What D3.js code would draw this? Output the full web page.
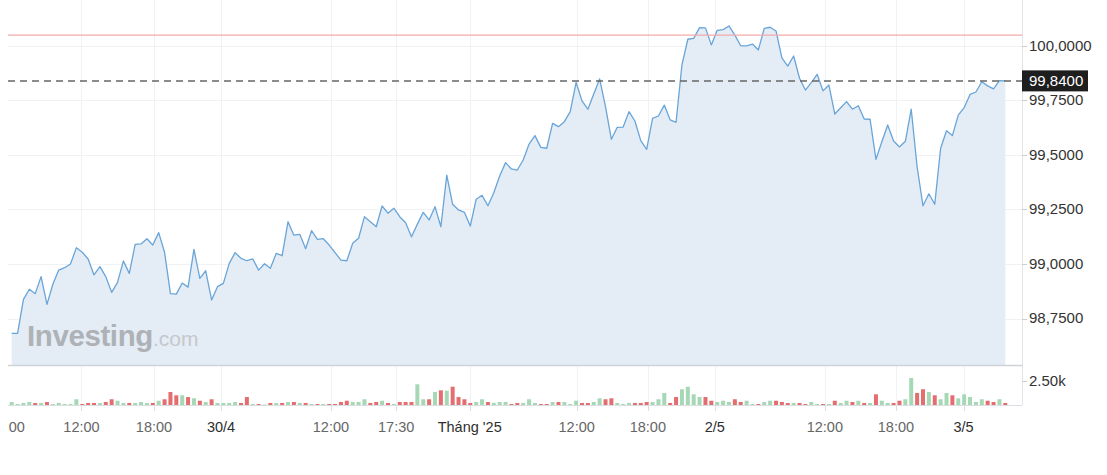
<!DOCTYPE html>
<html><head><meta charset="utf-8">
<script src="https://cdn.jsdelivr.net/npm/d3@7"></script>
<style>
html,body{margin:0;padding:0;background:#fff;overflow:hidden;}
svg{display:block;font-family:"Liberation Sans",Arial,Helvetica,sans-serif;}
</style></head><body>
<svg id="c" width="1107" height="475"></svg>
<script>
// ---------------- DATA ----------------
const prices = [
98.682,98.682,98.838,98.884,98.864,98.942,98.815,98.907,98.972,98.983,
99.000,99.075,99.054,99.023,98.950,98.988,98.942,98.870,98.916,99.014,
98.957,99.090,99.092,99.116,99.087,99.144,99.054,98.864,98.862,98.913,
98.894,99.067,98.934,98.969,98.835,98.896,98.911,99.003,99.052,99.026,
99.015,99.023,98.972,99.001,98.980,99.049,99.038,99.194,99.132,99.136,
99.070,99.153,99.113,99.116,99.087,99.052,99.018,99.015,99.095,99.118,
99.217,99.194,99.171,99.266,99.233,99.256,99.217,99.189,99.125,99.183,
99.237,99.202,99.263,99.171,99.408,99.274,99.248,99.237,99.174,99.297,
99.315,99.267,99.327,99.404,99.465,99.436,99.431,99.477,99.550,99.589,
99.535,99.531,99.645,99.630,99.653,99.699,99.833,99.748,99.710,99.780,
99.849,99.722,99.572,99.627,99.628,99.699,99.656,99.566,99.526,99.668,
99.679,99.729,99.661,99.650,99.913,100.031,100.035,100.084,100.083,100.005,
100.072,100.075,100.092,100.050,100.001,100.001,100.009,99.982,100.081,100.086,
100.069,99.946,99.908,99.954,99.852,99.798,99.832,99.870,99.794,99.821,
99.688,99.717,99.745,99.710,99.726,99.665,99.664,99.480,99.561,99.638,
99.564,99.537,99.563,99.710,99.446,99.267,99.322,99.274,99.531,99.611,
99.589,99.683,99.717,99.778,99.789,99.836,99.817,99.803,99.841,99.840
];
const volumes = [
310,100,210,310,210,210,310,100,210,100,
100,590,100,210,210,210,310,590,440,210,
210,210,310,210,210,440,590,1340,1000,1000,
820,690,440,310,590,210,210,210,310,210,
820,100,100,50,210,210,210,310,310,210,
210,100,100,100,100,100,310,440,310,310,
590,210,310,440,210,100,310,310,310,2130,
590,590,1340,1510,1470,1880,820,590,210,310,
590,310,210,310,310,100,210,210,590,210,
100,100,310,310,310,100,440,210,210,310,
690,590,690,210,100,210,210,210,310,310,
590,1240,210,820,1620,1880,1100,820,820,440,
310,440,310,590,310,440,100,100,310,440,
440,310,210,210,210,100,310,100,100,100,
440,210,440,310,440,210,210,1100,440,210,
210,440,590,2780,1240,1620,1340,1000,590,1240,
1000,690,1100,820,310,590,440,310,590,210
];
const volUp = [
1,1,1,1,0,1,0,1,1,1,
1,1,0,0,0,1,0,0,1,1,
0,1,1,1,0,1,0,0,0,1,
0,1,0,1,0,1,1,1,1,0,
0,1,0,1,0,1,0,1,0,1,
0,1,0,1,0,0,0,0,1,1,
1,0,0,1,0,1,0,0,0,1,
1,0,1,0,1,0,0,0,0,1,
1,0,1,1,1,0,0,1,1,1,
0,0,1,0,1,1,1,0,0,1,
1,0,0,1,1,1,0,0,0,1,
1,1,0,0,1,1,1,1,0,0,
1,1,1,0,0,1,1,0,1,1,
0,0,0,1,0,0,1,1,0,1,
0,1,1,0,1,0,1,0,1,1,
0,0,1,1,0,0,1,0,1,1,
0,1,1,1,1,1,0,0,1,0
];
const priceTicks = [98.75, 99, 99.25, 99.5, 99.75, 100];
const volTicks = [2500];
const timeTickIdx = [0.85, 11.87, 24.2, 35.6, 54.3, 65.4, 77.9, 96.1, 108.2, 119.6, 138.3, 150.4, 161.9];
const timeTickLabels = ["00","12:00","18:00","30/4","12:00","17:30","Tháng '25","12:00","18:00","2/5","12:00","18:00","3/5"];
const timeTickIsDate = [0,0,0,1,0,0,1,0,0,1,0,0,1];
const lastPrice = 99.84;
const refLevel = 100.05;
const watermarkText = ["Investing", ".com"];

// ---------------- LAYOUT ----------------
const W = 1107, H = 475;
const plotL = 8, plotR = 1022;
const mainTop = 0, mainBot = 365;
const volBot = 405;

const svg = d3.select("#c");

const x = d3.scaleLinear().domain([0, prices.length - 1]).range([11.7, 1005.3]);
const y = d3.scaleLinear().domain([98.5367, 100.211]).range([mainBot, mainTop]);
const yv = d3.scaleLinear().domain([0, 2500]).range([volBot, 380.7]);

const fmtPrice = v => d3.format(".4f")(v).replace(".", ",");
const fmtVol = v => d3.format(".2f")(v / 1000) + "k";

// grid
const grid = svg.append("g");
grid.selectAll("line.h").data(priceTicks).join("line")
  .attr("x1", plotL).attr("x2", plotR)
  .attr("y1", d => Math.round(y(d)) + 0.5).attr("y2", d => Math.round(y(d)) + 0.5)
  .attr("stroke", "#f1f2f4").attr("stroke-width", 1);
grid.selectAll("line.v").data(timeTickIdx.slice(1)).join("line")
  .attr("x1", d => Math.round(x(d)) + 0.5).attr("x2", d => Math.round(x(d)) + 0.5)
  .attr("y1", mainTop).attr("y2", volBot)
  .attr("stroke", "#f1f2f4").attr("stroke-width", 1);

// area + line
const area = d3.area().x((d, i) => x(i)).y0(mainBot).y1(d => y(d));
const line = d3.line().x((d, i) => x(i)).y(d => y(d));
svg.append("path").datum(prices).attr("d", area).attr("fill", "#e4ecf5");

// watermark
const wm = svg.append("text").attr("x", 27).attr("y", 346)
  .attr("font-family", "'Liberation Sans', Arial, sans-serif");
wm.append("tspan").text(watermarkText[0]).attr("font-weight", "bold").attr("font-size", 29.5)
  .attr("fill", "#aeb2b7").attr("letter-spacing", -0.4);
wm.append("tspan").text(watermarkText[1]).attr("font-size", 21).attr("fill", "#c4c8cd");

svg.append("path").datum(prices).attr("d", line)
  .attr("fill", "none").attr("stroke", "#69a5d8").attr("stroke-width", 1.3)
  .attr("stroke-linejoin", "round");

// reference level (red) and last price (dashed)
svg.append("line").attr("x1", plotL).attr("x2", plotR)
  .attr("y1", y(refLevel)).attr("y2", y(refLevel))
  .style("stroke", "rgb(244,170,170)").style("stroke-width", "1.4px");
svg.append("line").attr("x1", plotL).attr("x2", plotR)
  .attr("y1", y(lastPrice)).attr("y2", y(lastPrice))
  .attr("stroke", "#666").attr("stroke-width", 1.5).attr("stroke-dasharray", "7,5");

// volume bars
svg.append("g").selectAll("rect").data(volumes).join("rect")
  .attr("x", (d, i) => x(i) - 2).attr("width", 4)
  .attr("y", d => yv(d)).attr("height", d => volBot - yv(d))
  .attr("fill", (d, i) => volUp[i] ? "#a6d8b6" : "#e46e6f");

// panel borders
svg.append("line").attr("x1", plotL).attr("x2", plotR).attr("y1", mainBot + 0.5).attr("y2", mainBot + 0.5)
  .attr("stroke", "#cdd2d7").attr("stroke-width", 1.5);
svg.append("line").attr("x1", plotL).attr("x2", plotR).attr("y1", volBot + 0.5).attr("y2", volBot + 0.5)
  .attr("stroke", "#dadde2").attr("stroke-width", 1);
svg.append("line").attr("x1", plotR + 0.5).attr("x2", plotR + 0.5).attr("y1", 0).attr("y2", volBot)
  .attr("stroke", "#e0e3e9").attr("stroke-width", 1);

// right price axis
const pax = svg.append("g");
pax.selectAll("line").data(priceTicks).join("line")
  .attr("x1", plotR).attr("x2", plotR + 5)
  .attr("y1", d => Math.round(y(d)) + 0.5).attr("y2", d => Math.round(y(d)) + 0.5)
  .attr("stroke", "#c9ced4");
pax.selectAll("text").data(priceTicks).join("text")
  .attr("x", plotR + 7).attr("y", d => y(d) - 0.5).attr("dy", "0.35em")
  .attr("font-size", 15).attr("fill", "#333").text(fmtPrice);

// volume axis
const vax = svg.append("g");
vax.selectAll("line").data(volTicks).join("line")
  .attr("x1", plotR).attr("x2", plotR + 5)
  .attr("y1", d => Math.round(yv(d)) + 0.5).attr("y2", d => Math.round(yv(d)) + 0.5)
  .attr("stroke", "#c9ced4");
vax.selectAll("text").data(volTicks).join("text")
  .attr("x", plotR + 7).attr("y", d => yv(d)).attr("dy", "0.35em")
  .attr("font-size", 15).attr("fill", "#333").text(fmtVol);

// last price badge
const by = y(lastPrice);
svg.append("rect").attr("x", plotR).attr("y", by - 10.5).attr("width", 66).attr("height", 21)
  .attr("fill", "#1e1e1e");
svg.append("text").attr("x", plotR + 7).attr("y", by).attr("dy", "0.35em")
  .attr("font-size", 15).attr("fill", "#fff").text(fmtPrice(lastPrice));

// time axis
const tax = svg.append("g");
tax.selectAll("line").data(timeTickIdx.slice(1)).join("line")
  .attr("x1", d => Math.round(x(d)) + 0.5).attr("x2", d => Math.round(x(d)) + 0.5)
  .attr("y1", volBot).attr("y2", volBot + 6)
  .attr("stroke", "#dadde2");
tax.selectAll("text").data(timeTickIdx).join("text")
  .attr("x", d => x(d)).attr("y", 432)
  .attr("text-anchor", "middle").attr("font-size", 14.5)
  .attr("fill", (d, i) => timeTickIsDate[i] ? "#2e2e2e" : "#666")
  .text((d, i) => timeTickLabels[i]);
</script>
</body></html>
